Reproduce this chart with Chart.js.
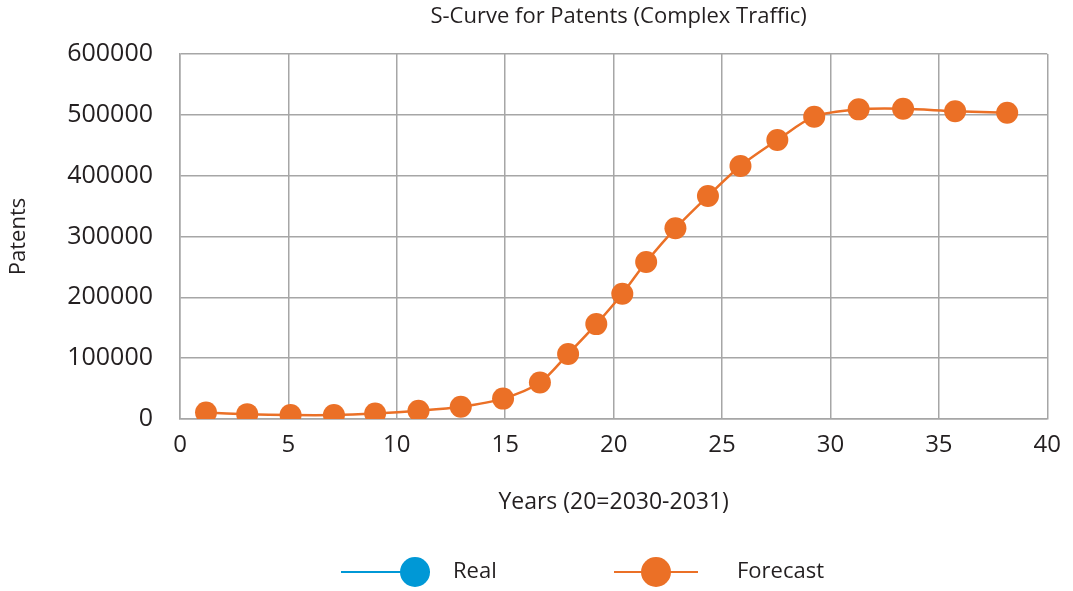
<!DOCTYPE html>
<html>
<head>
<meta charset="utf-8">
<title>S-Curve for Patents</title>
<script src="https://cdn.jsdelivr.net/npm/chart.js@4"></script>
<style>
  html, body { margin: 0; padding: 0; background: #fff; }
  #wrap { width: 1073px; height: 591px; }
</style>
</head>
<body>
<div id="wrap"><canvas id="chart" width="1073" height="591"></canvas></div>
<script>
const FONT = "'Open Sans', sans-serif";
const TEXT = "#231f20";
const ORANGE = "#eb7026";
const BLUE = "#0098d6";

// years since start (20 = 2030-2031)
const forecastYears = [1.2, 3.1, 5.1, 7.1, 9.0, 11.0, 12.95, 14.9, 16.6, 17.9, 19.2, 20.4,
  21.5, 22.85, 24.35, 25.85, 27.55, 29.25, 31.3, 33.35, 35.75, 38.15];
const forecastPatents = [10500, 8000, 6500, 6500, 9000, 13500, 20000, 33500, 60000, 107000,
  156000, 206000, 258000, 313500, 366500, 416000, 458500, 497000, 509000, 510000, 506000, 503500];
const realYears = [];
const realPatents = [];

const yTicks = [0, 100000, 200000, 300000, 400000, 500000, 600000];
const xTicks = [0, 5, 10, 15, 20, 25, 30, 35, 40];

function toPoints(xs, ys) {
  return xs.map((x, i) => ({ x: x, y: ys[i] }));
}

// title on top and line+dot legend below, both centred on the plot area
const decorations = {
  id: "decorations",
  afterDraw(chart) {
    const ctx = chart.ctx;
    const area = chart.chartArea;
    ctx.save();
    ctx.fillStyle = TEXT;
    ctx.font = "22px " + FONT;
    ctx.textAlign = "center";
    ctx.textBaseline = "middle";
    ctx.fillText("S-Curve for Patents (Complex Traffic)", (area.left + area.right) / 2 + 5, 17);

    const items = [
      { label: "Real", color: BLUE, x0: 341, x1: 430, dot: 415, text: 453 },
      { label: "Forecast", color: ORANGE, x0: 614, x1: 698, dot: 656, text: 737 },
    ];
    const y = 572;
    ctx.textAlign = "left";
    ctx.font = "22px " + FONT;
    items.forEach((it) => {
      ctx.strokeStyle = it.color;
      ctx.lineWidth = 2;
      ctx.beginPath();
      ctx.moveTo(it.x0, y);
      ctx.lineTo(it.x1, y);
      ctx.stroke();
      ctx.fillStyle = it.color;
      ctx.beginPath();
      ctx.arc(it.dot, y, 15, 0, Math.PI * 2);
      ctx.fill();
      ctx.fillStyle = TEXT;
      ctx.fillText(it.label, it.text, y);
    });
    ctx.restore();
  },
};

const ctx = document.getElementById("chart").getContext("2d");
new Chart(ctx, {
  type: "line",
  data: {
    datasets: [
      {
        label: "Real",
        data: toPoints(realYears, realPatents),
        borderColor: BLUE,
        backgroundColor: BLUE,
        pointRadius: 11,
        borderWidth: 2,
      },
      {
        label: "Forecast",
        data: toPoints(forecastYears, forecastPatents),
        borderColor: ORANGE,
        backgroundColor: ORANGE,
        pointBackgroundColor: ORANGE,
        pointBorderWidth: 0,
        pointRadius: 11,
        borderWidth: 2.5,
        tension: 0.3,
        fill: false,
      },
    ],
  },
  options: {
    responsive: false,
    animation: false,
    layout: { padding: { top: 54, right: 22, bottom: 72, left: 0 } },
    plugins: {
      legend: { display: false },
      title: { display: false },
      tooltip: { enabled: false },
    },
    scales: {
      x: {
        type: "linear",
        min: 0,
        max: 40,
        afterBuildTicks: (scale) => { scale.ticks = xTicks.map((v) => ({ value: v })); },
        afterFit: (scale) => { scale.height = 100; },
        grid: { color: "#a6a6a6", lineWidth: 1.5, drawTicks: false },
        border: { color: "#a6a6a6", width: 1.5 },
        ticks: { font: { family: FONT, size: 24 }, color: TEXT, padding: 12, maxRotation: 0 },
        title: {
          display: true,
          text: "Years (20=2030-2031)",
          font: { family: FONT, size: 23 },
          color: TEXT,
          padding: { top: 4, bottom: 3 },
        },
      },
      y: {
        min: 0,
        max: 600000,
        afterBuildTicks: (scale) => { scale.ticks = yTicks.map((v) => ({ value: v })); },
        afterFit: (scale) => { scale.width = 180; },
        grid: { color: "#a6a6a6", lineWidth: 1.5, drawTicks: false },
        border: { color: "#a6a6a6", width: 1.5 },
        ticks: {
          font: { family: FONT, size: 25 },
          color: TEXT,
          padding: 27,
          callback: (v) => String(v),
        },
        title: {
          display: true,
          text: "Patents",
          font: { family: FONT, size: 22 },
          color: TEXT,
          padding: { top: 6, bottom: 4 },
        },
      },
    },
  },
  plugins: [decorations],
});
</script>
</body>
</html>
